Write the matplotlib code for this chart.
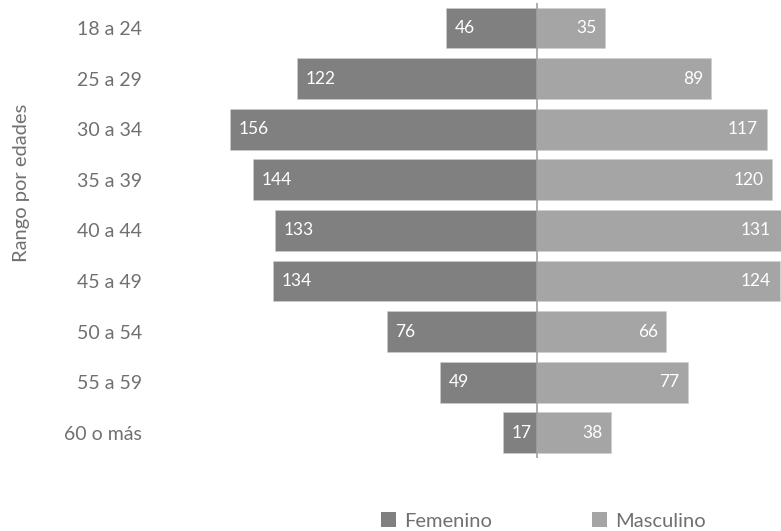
import matplotlib
matplotlib.use("Agg")
import matplotlib.pyplot as plt
from matplotlib.patches import Patch

categories = ["18 a 24", "25 a 29", "30 a 34", "35 a 39", "40 a 44",
              "45 a 49", "50 a 54", "55 a 59", "60 o más"]
femenino = [46, 122, 156, 144, 133, 134, 76, 49, 17]
masculino = [35, 89, 117, 120, 131, 124, 66, 77, 38]
legend_labels = ["Femenino", "Masculino"]
axis_label = "Rango por edades"

c_fem = "#808080"
c_mas = "#a5a5a5"
c_text = "#707070"
FONT = ["Lato", "DejaVu Sans"]
plt.rcParams["font.family"] = FONT
WEIGHT = "normal"

W, H = 781, 531
fig = plt.figure(figsize=(W / 100, H / 100), dpi=100)

ax_left_px = 150
ax = fig.add_axes([ax_left_px / W, 0, (W - ax_left_px) / W, 1])

center_px = 536.5
ppu = 1.966  # pixels per unit
xmin = -(center_px - ax_left_px) / ppu
xmax = (W - center_px) / ppu
ax.set_xlim(xmin, xmax)

row0_px = 28
row_h = 50.6
ytop = -row0_px / row_h
ybot = (H - row0_px) / row_h
ax.set_ylim(ybot, ytop)

ys = list(range(len(categories)))
bh = 0.81
ax.barh(ys, [-v for v in femenino], height=bh, color=c_fem,
        edgecolor="#cfcfcf", linewidth=0.4, zorder=2)
ax.barh(ys, masculino, height=bh, color=c_mas,
        edgecolor="#cfcfcf", linewidth=0.4, zorder=2)

ax.vlines(0, -0.5 + 0.01, len(categories) - 0.5, color="#a0a0a0",
          linewidth=1.2, zorder=3)

pad_u = 8.5 / ppu
for y, f, m in zip(ys, femenino, masculino):
    ax.text(-f + pad_u, y, str(f), ha="left", va="center", color="white",
            fontsize=12.5, fontweight=WEIGHT, zorder=4)
    xm = min(m, xmax - 1)
    ax.text(xm - pad_u, y, str(m), ha="right", va="center", color="white",
            fontsize=12.5, fontweight=WEIGHT, zorder=4)

ax.set_yticks(ys)
ax.set_yticklabels(categories, fontsize=14, fontweight=WEIGHT, color=c_text)
ax.tick_params(axis="y", length=0, pad=6)
ax.set_xticks([])
for s in ax.spines.values():
    s.set_visible(False)

fig.text(22 / W, 1 - 183 / H, axis_label, rotation=90, ha="center",
         va="center", fontsize=14.5, fontweight=WEIGHT, color=c_text)

handles = [Patch(facecolor=c_fem, edgecolor="none"),
           Patch(facecolor=c_mas, edgecolor="none")]
fs = 14.5
fpx = fs * 100 / 72
fig.legend(handles, legend_labels, loc="center",
           bbox_to_anchor=(543.5 / W, 1 - 521 / H), ncol=2, frameon=False,
           prop={"weight": WEIGHT, "size": fs},
           labelcolor=c_text, handlelength=15 / fpx, handleheight=15 / fpx,
           handletextpad=8 / fpx, columnspacing=100 / fpx,
           borderpad=0, borderaxespad=0)

fig.savefig("out.png", dpi=100)
